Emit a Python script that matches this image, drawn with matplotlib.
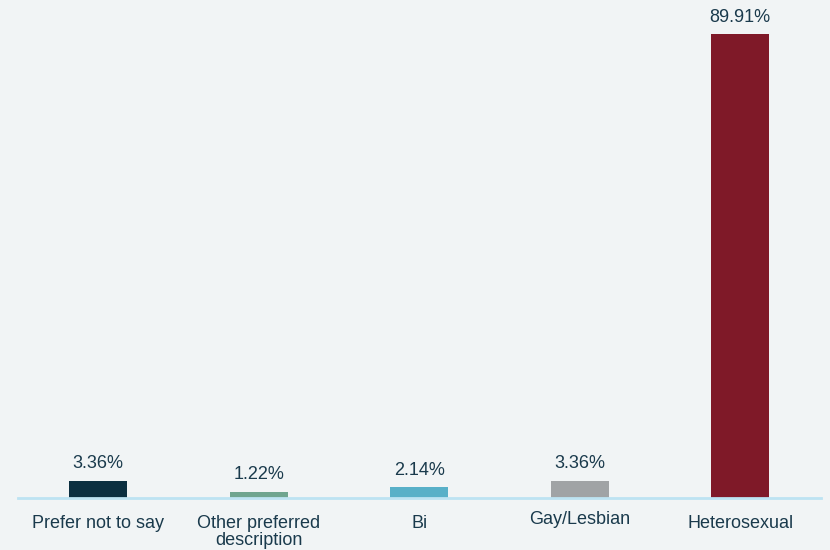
import matplotlib
matplotlib.use("Agg")
import matplotlib.pyplot as plt

categories = ["Prefer not to say", "Other preferred\ndescription", "Bi", "Gay/Lesbian", "Heterosexual"]
values = [3.36, 1.22, 2.14, 3.36, 89.91]
value_labels = ["3.36%", "1.22%", "2.14%", "3.36%", "89.91%"]
bar_colors = ["#0b2f40", "#6fa58f", "#58b0c8", "#a0a3a5", "#7f1928"]

plt.rcParams["font.family"] = ["Liberation Sans", "DejaVu Sans"]
text_color = "#1a3a4c"
bg = "#f1f4f5"

fig = plt.figure(figsize=(8.3, 5.5), dpi=100, facecolor=bg)
ax = fig.add_axes([18 / 830, 52 / 550, 802.5 / 830, 488 / 550])
ax.set_facecolor(bg)

x = list(range(len(categories)))
bars = ax.bar(x, values, width=0.36, color=bar_colors, zorder=2)
ax.set_xlim(-0.5, len(categories) - 0.5)
ax.set_ylim(0, 94.57)

for b, lab in zip(bars, value_labels):
    ax.annotate(lab, (b.get_x() + b.get_width() / 2, b.get_height()),
                xytext=(0, 6), textcoords="offset points",
                ha="center", va="bottom", fontsize=13, color=text_color)

# category names under the baseline (Gay/Lesbian sits slightly higher)
raise_pts = {3: 3}
for i, name in enumerate(categories):
    ax.annotate(name, (i, 0), xytext=(0, -12 + raise_pts.get(i, 0)),
                textcoords="offset points", ha="center", va="top",
                fontsize=13, color=text_color, linespacing=1.05,
                annotation_clip=False)

for s in ["top", "right", "left"]:
    ax.spines[s].set_visible(False)
ax.spines["bottom"].set_color("#bde3f2")
ax.spines["bottom"].set_linewidth(2)
ax.spines["bottom"].set_zorder(3)
ax.set_xticks([])
ax.set_yticks([])

fig.savefig("out.png", dpi=100, facecolor=bg)
